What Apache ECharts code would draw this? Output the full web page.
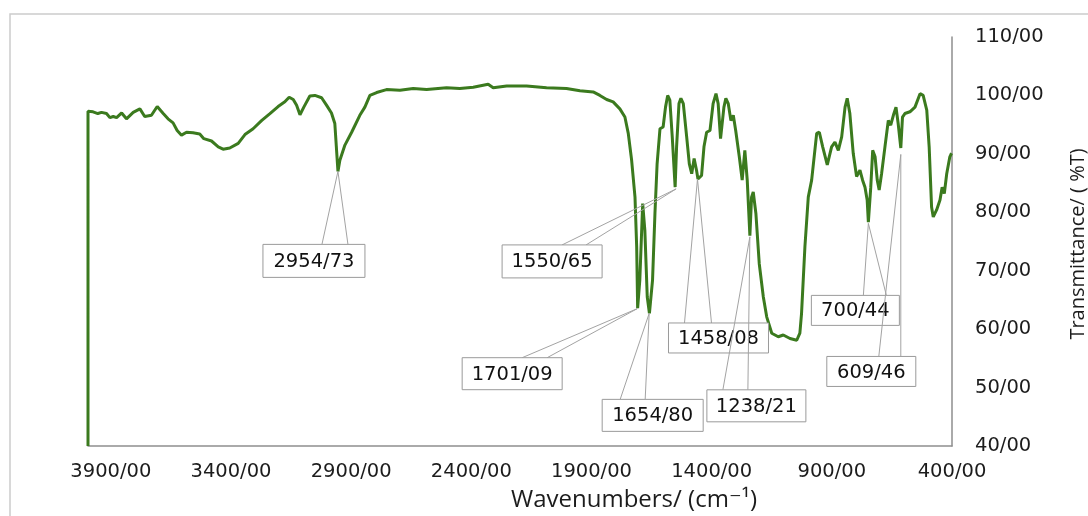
<!DOCTYPE html>
<html>
<head>
<meta charset="utf-8">
<script src="https://cdn.jsdelivr.net/npm/echarts@6/dist/echarts.min.js"></script>
<style>
html,body{margin:0;padding:0;background:#fff;}
#chart{width:1088px;height:516px;}
</style>
</head>
<body>
<div id="chart"></div>
<script>
// Spectrum (wavenumber in cm-1, transmittance in %T)
const wavenumbers = [3995,3995,3974,3954,3939,3918,3904,3890,3876,3855,3835,3807,3779,3759,3731,3707,3682,3662,3641,3624,3606,3585,3558,3530,3513,3481,3453,3433,3405,3370,3342,3308,3273,3238,3204,3176,3158,3141,3127,3113,3097,3072,3051,3023,3002,2982,2968,2955,2947,2926,2898,2864,2843,2822,2794,2753,2697,2642,2586,2503,2448,2392,2330,2309,2253,2170,2087,2004,1948,1893,1865,1837,1810,1782,1761,1747,1733,1719,1712,1708,1699,1687,1678,1668,1659,1646,1636,1627,1615,1602,1592,1583,1574,1564,1552,1546,1536,1528,1518,1504,1493,1483,1473,1463,1457,1442,1432,1421,1407,1394,1382,1373,1363,1349,1341,1331,1320,1310,1300,1285,1273,1262,1252,1241,1234,1227,1216,1202,1185,1171,1150,1123,1102,1074,1046,1033,1026,1012,998,984,977,963,952,938,919,901,887,873,859,845,836,825,811,797,783,772,762,753,748,738,730,720,711,703,693,679,665,655,644,633,624,613,606,596,575,554,533,520,505,495,485,478,464,450,441,432,422,409,402];
const transmittance = [40,97.3,97.2,96.9,97.1,96.9,96.2,96.4,96.2,97.0,96.0,97.1,97.7,96.4,96.6,98.1,96.9,96.0,95.3,94.0,93.2,93.7,93.6,93.4,92.6,92.2,91.2,90.8,91.0,91.8,93.3,94.3,95.7,96.9,98.1,98.9,99.7,99.3,98.3,96.7,98.0,99.9,100.0,99.6,98.3,97.0,95.2,87.0,88.9,91.5,93.7,96.6,98.0,100.0,100.5,101.0,100.9,101.2,101.0,101.3,101.2,101.4,101.9,101.3,101.6,101.6,101.3,101.2,100.8,100.6,100.0,99.3,98.9,97.7,96.3,93.5,88.9,82.6,74.1,63.6,68.4,81.5,76.9,65.5,62.7,68.4,79.8,88.3,94.3,94.6,98.0,100.0,99.2,92.9,84.3,91.2,98.6,99.5,98.6,92.9,88.3,86.6,89.2,87.2,85.7,86.3,91.2,93.7,94.0,98.6,100.3,98.6,92.6,98.0,99.5,98.6,95.7,96.6,94.0,89.5,85.5,90.6,85.5,76.0,82.6,83.5,79.8,71.2,65.5,62.1,59.3,58.7,59.0,58.4,58.1,59.3,62.7,74.1,82.6,85.5,85.8,93.5,93.7,91.2,88.1,91.2,92.0,90.6,92.9,98.0,99.5,96.9,90.1,86.1,87.2,85.5,84.3,82.1,78.3,84.3,90.6,89.5,85.5,83.8,86.6,91.2,95.7,94.9,96.6,98.0,95.2,91.0,96.3,96.9,97.2,98.0,100.3,100.0,97.5,91.2,80.9,79.2,80.4,82.1,84.3,83.2,86.6,89.5,90.1];

// Peak callouts
const calloutLabels = ['2954/73','1550/65','1701/09','1654/80','1458/08','1238/21','700/44','609/46'];
const calloutWavenumbers = [2955,1548,1710,1660,1459,1241,748,613];
const calloutTransmittance = [87.0,84.0,63.5,62.7,85.7,75.8,78.1,89.9];

// Axis settings
const xTickStart = 400, xMax = 3995, xTickStep = 500;
const yMin = 40, yMax = 110, yTickStep = 10;
const xAxisTitle = 'Wavenumbers/ (cm\u207B\u00B9)';
const yAxisTitle = 'Transmittance/ ( %T)';

// Callout box layout (pixel offsets from the anchored point)
const calloutLayout = [
  {dx:-75, dy:73, w:102, h:33, b:[-16,10]},
  {dx:-174, dy:56, w:100, h:33, b:[-114,-90]},
  {dx:-175, dy:49, w:100, h:32, b:[-115,-90]},
  {dx:-47, dy:86, w:101, h:32, b:[-29,-4]},
  {dx:-29, dy:144, w:100, h:30, b:[-13,14]},
  {dx:-43, dy:153, w:99, h:32, b:[-27,-2]},
  {dx:-57, dy:72, w:88, h:30, b:[-5,18]},
  {dx:-74, dy:202, w:89, h:30, b:[-22,0]}
];

const LABEL_FONT = '"DejaVu Sans", Verdana, sans-serif';
const NAME_FONT = '"Open Sans", "DejaVu Sans", sans-serif';
const lineColor = '#3b7a1e';
const axisColor = '#8e8e8e';

const spectrum = wavenumbers.map((w, i) => [w, transmittance[i]]);
const callouts = calloutWavenumbers.map((w, i) => [w, calloutTransmittance[i]]);

const chart = echarts.init(document.getElementById('chart'), null, {renderer: 'canvas'});
chart.setOption({
  animation: false,
  backgroundColor: '#fff',
  grid: {left: 88, right: 136, top: 37, bottom: 70},
  xAxis: {
    type: 'value', min: xTickStart, max: xMax, interval: xTickStep, inverse: true,
    axisLine: {show: true, lineStyle: {color: axisColor, width: 1.5}},
    axisTick: {show: false}, splitLine: {show: false},
    axisLabel: {
      formatter: v => v + '/00', showMaxLabel: false, showMinLabel: true, margin: 16,
      color: '#1c1c1c', fontFamily: LABEL_FONT, fontSize: 19.5
    }
  },
  yAxis: {
    type: 'value', position: 'right', min: yMin, max: yMax, interval: yTickStep,
    axisLine: {show: true, lineStyle: {color: axisColor, width: 1.5}},
    axisTick: {show: false}, splitLine: {show: false},
    axisLabel: {
      formatter: v => v + '/00', margin: 23,
      color: '#1c1c1c', fontFamily: LABEL_FONT, fontSize: 19.5
    }
  },
  series: [
    {
      type: 'line', data: spectrum, showSymbol: false, symbol: 'none',
      lineStyle: {color: lineColor, width: 3}, z: 2
    },
    {
      type: 'custom', data: callouts, clip: false, z: 5,
      encode: {x: 0, y: 1},
      renderItem: (params, api) => {
        const i = params.dataIndex;
        const p = api.coord([api.value(0), api.value(1)]);
        const L = calloutLayout[i];
        const left = p[0] + L.dx, top = p[1] + L.dy;
        return {
          type: 'group',
          children: [
            {type: 'polyline', shape: {points: [[p[0] + L.b[0], top], [p[0], p[1]], [p[0] + L.b[1], top]]},
             style: {stroke: '#a3a3a3', lineWidth: 1, fill: null}},
            {type: 'rect', shape: {x: left, y: top, width: L.w, height: L.h},
             style: {fill: '#fff', stroke: '#9a9a9a', lineWidth: 1}},
            {type: 'text', style: {text: calloutLabels[i], x: left + L.w / 2, y: top + L.h / 2 + 1,
              align: 'center', verticalAlign: 'middle', textAlign: 'center', textVerticalAlign: 'middle',
              font: '19.5px ' + LABEL_FONT, fill: '#111'}}
          ]
        };
      }
    }
  ],
  graphic: [
    {type: 'rect', silent: true, z: 0, shape: {x: 10, y: 14, width: 1200, height: 700},
     style: {fill: 'none', stroke: '#cccccc', lineWidth: 1.5}},
    {type: 'text', x: 634, y: 500, z: 10,
     style: {text: xAxisTitle, font: '24px ' + NAME_FONT, fill: '#1c1c1c',
       align: 'center', verticalAlign: 'middle', textAlign: 'center', textVerticalAlign: 'middle'}},
    {type: 'text', x: 1078, y: 244, rotation: Math.PI / 2, z: 10,
     style: {text: yAxisTitle, font: '20px ' + NAME_FONT, fill: '#1c1c1c',
       align: 'center', verticalAlign: 'middle', textAlign: 'center', textVerticalAlign: 'middle'}}
  ]
});
</script>
</body>
</html>
